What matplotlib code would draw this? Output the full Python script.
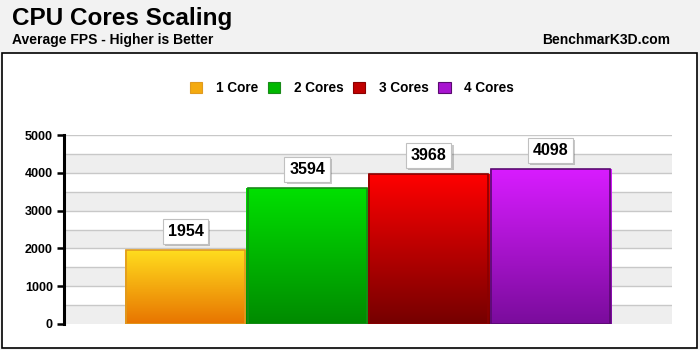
import matplotlib
matplotlib.use("Agg")
import matplotlib.pyplot as plt
import numpy as np
from matplotlib.patches import Rectangle, Patch
from matplotlib.colors import LinearSegmentedColormap
import matplotlib.patheffects as pe

categories = ["1 Core", "2 Cores", "3 Cores", "4 Cores"]
values = [1954, 3594, 3968, 4098]
top_colors = ["#ffdd1e", "#00e000", "#ff0000", "#d81cff"]
bottom_colors = ["#e87400", "#008a00", "#750000", "#7a0c9c"]
edge_colors = ["#e09a20", "#1a8a1a", "#8a0000", "#5a0a70"]
yticks = [0, 1000, 2000, 3000, 4000, 5000]

plt.rcParams['font.family'] = ['Liberation Sans', 'DejaVu Sans']

fig = plt.figure(figsize=(7, 3.5), dpi=100)
fig.patch.set_facecolor("#f2f2f2")

# inner white panel
panel = Rectangle((2/700, 2/350), 695/700, (348-53)/350, transform=fig.transFigure,
                  facecolor="white", edgecolor="black", linewidth=1.2, zorder=-1)
fig.patches.append(panel)

fig.text(12/700, 1-19/350, "CPU Cores Scaling", fontsize=17.5, fontweight="bold",
         va="center", ha="left")
fig.text(12/700, 1-40/350, "Average FPS - Higher is Better", fontsize=10, fontweight="bold",
         va="center", ha="left")
fig.text(670/700, 1-40/350, "BenchmarK3D.com", fontsize=10, fontweight="bold",
         va="center", ha="right")

ax = fig.add_axes([64/700, 26/350, (672-64)/700, (324-135)/350])
ax.set_zorder(2)
ax.set_facecolor("white")
ax.set_xlim(-1, 4)
ax.set_ylim(0, 5000)

# alternating stripes
for y0 in range(0, 5000, 1000):
    ax.axhspan(y0, y0+500, color="#eeeeee", zorder=0, lw=0)
for y in range(500, 5001, 500):
    ax.axhline(y, color="#c8c8c8", lw=1, zorder=0.5)

x = np.arange(len(values))
bars = ax.bar(x, values, width=1.0, color="none", edgecolor="none", zorder=2)
grad = np.linspace(0, 1, 256).reshape(-1, 1)
for i, b in enumerate(bars):
    cmap = LinearSegmentedColormap.from_list("g", [bottom_colors[i], top_colors[i]])
    x0 = b.get_x(); w = b.get_width(); h = b.get_height()
    im = ax.imshow(grad, cmap=cmap, extent=(x0, x0+w, 0, h), origin="lower",
                   aspect="auto", zorder=2)
    im.set_clip_path(b)
    ax.add_patch(Rectangle((x0+0.01, 0), w-0.02, h, facecolor="none",
                           edgecolor=edge_colors[i], lw=1.2, zorder=3))
    t = ax.annotate(f"{values[i]}", (i, values[i]), xytext=(0, 13.5), textcoords="offset points",
                    ha="center", va="center", fontsize=11.5, fontweight="bold", zorder=5,
                    bbox=dict(boxstyle="square,pad=0.3", fc="white", ec="#c0c0c0", lw=0.8))
    t.get_bbox_patch().set_path_effects([pe.SimplePatchShadow(offset=(1.5, -1.5), alpha=0.3),
                                         pe.Normal()])
ax.set_xlim(-1, 4)
ax.set_ylim(0, 5000)

ax.set_xticks([])
ax.set_yticks(yticks)
ax.set_yticklabels([str(v) for v in yticks], fontsize=9, fontweight="bold")
ax.tick_params(axis="y", length=5, width=1.8, pad=3)
for s in ["top", "right", "bottom"]:
    ax.spines[s].set_visible(False)
ax.spines["left"].set_linewidth(2.2)

handles = [Patch(facecolor=c, edgecolor=e, lw=0.8) for c, e in zip(
    ["#f4aa10", "#00b800", "#c00000", "#a814d0"], edge_colors)]
fig.legend(handles, categories, loc="center", bbox_to_anchor=(352/700, 1-88/350), ncol=4,
           frameon=False, prop=dict(weight="bold", size=9.8), handlelength=0.9, handleheight=0.9,
           handletextpad=1.0, columnspacing=0.72)

fig.savefig("out.png", dpi=100, facecolor=fig.get_facecolor())
